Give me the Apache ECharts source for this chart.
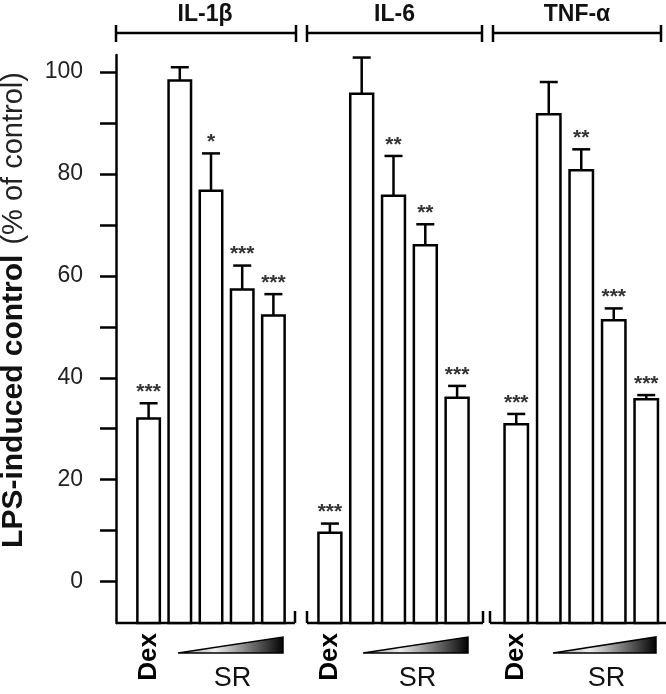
<!DOCTYPE html>
<html>
<head>
<meta charset="utf-8">
<script src="https://cdn.jsdelivr.net/npm/echarts@6/dist/echarts.min.js"></script>
<style>html,body{margin:0;padding:0;background:#fff;}#chart{width:666px;height:694px;}</style>
</head>
<body>
<div id="chart"></div>
<script>
// ---- data ----
const groups = ['IL-1β', 'IL-6', 'TNF-α'];
const categories = ['Dex', 'SR1', 'SR2', 'SR3', 'SR4'];
const il1bMean = [32.0, 98.3, 76.7, 57.3, 52.2];
const il1bErr  = [3.0, 2.6, 7.3, 4.7, 4.2];
const il1bSig  = ['***', '', '*', '***', '***'];
const il6Mean  = [9.6, 95.7, 75.7, 66.0, 36.1];
const il6Err   = [1.8, 7.1, 7.8, 4.1, 2.3];
const il6Sig   = ['***', '', '**', '**', '***'];
const tnfMean  = [30.9, 91.7, 80.7, 51.3, 35.8];
const tnfErr   = [2.0, 6.3, 4.1, 2.3, 0.8];
const tnfSig   = ['***', '', '**', '***', '***'];
const yTicks = [0, 20, 40, 60, 80, 100];
const yMinorTicks = [10, 30, 50, 70, 90];
const yMin = -8.1, yMax = 103.3;

const FONT = 'Liberation Sans, Arial, sans-serif';
const means = [il1bMean, il6Mean, tnfMean];
const errs = [il1bErr, il6Err, tnfErr];
const sigs = [il1bSig, il6Sig, tnfSig];
const gridDefs = [
  {left: 133, width: 156},
  {left: 314, width: 159},
  {left: 500, width: 162.5}
];
const AXIS_OFFSET = 17;

function makeRender(g) {
  return function (params, api) {
    const cat = api.value(0), val = api.value(1), err = api.value(2);
    const base = api.coord([cat, yMin]);
    const top = api.coord([cat, val]);
    const cap = api.coord([cat, val + err]);
    const bw = api.size([1, 0])[0] * 0.72;
    const s = sigs[g][params.dataIndex];
    const children = [
      {type: 'line', shape: {x1: top[0], y1: top[1], x2: top[0], y2: cap[1]}, style: {stroke: '#000', lineWidth: 2.5}},
      {type: 'line', shape: {x1: top[0] - 9, y1: cap[1], x2: top[0] + 9, y2: cap[1]}, style: {stroke: '#000', lineWidth: 2.5}},
      {type: 'rect', shape: {x: base[0] - bw / 2, y: top[1], width: bw, height: base[1] - top[1]}, style: {fill: '#fff', stroke: '#000', lineWidth: 2.5}}
    ];
    if (s) {
      children.push({type: 'text', x: top[0], y: cap[1] - 11, style: {text: s, align: 'center', verticalAlign: 'middle', font: 'bold 21px ' + FONT, fill: '#333'}});
    }
    return {type: 'group', children: children};
  };
}

const option = {
  backgroundColor: '#fff',
  animation: false,
  grid: gridDefs.map(d => ({left: d.left, width: d.width, top: 55, bottom: 71, containLabel: false})),
  xAxis: gridDefs.map((d, i) => ({
    type: 'category', gridIndex: i, data: categories,
    axisLine: {show: false}, axisTick: {show: false}, splitLine: {show: false},
    axisLabel: {
      interval: 0, rotate: 90, margin: 10,
      formatter: (v, idx) => idx === 0 ? v : '',
      fontFamily: FONT, fontWeight: 'bold', fontSize: 26, color: '#000'
    }
  })),
  yAxis: [
    {
      type: 'value', gridIndex: 0, position: 'left', min: yMin, max: yMax, offset: AXIS_OFFSET,
      axisLine: {show: true, lineStyle: {color: '#000', width: 2.5}},
      axisTick: {show: true, length: 16, customValues: yTicks.concat(yMinorTicks), lineStyle: {color: '#000', width: 2.5}},
      axisLabel: {customValues: yTicks, margin: 33, fontFamily: FONT, fontSize: 23, color: '#222'},
      splitLine: {show: false}
    },
    {type: 'value', gridIndex: 1, min: yMin, max: yMax, show: false},
    {type: 'value', gridIndex: 2, min: yMin, max: yMax, show: false}
  ],
  series: [0, 1, 2].map(g => ({
    type: 'custom',
    name: groups[g],
    xAxisIndex: g,
    yAxisIndex: g,
    renderItem: makeRender(g),
    data: means[g].map((m, i) => [i, m, errs[g][i]]),
    clip: false
  })),
  graphic: []
};

// decorations: group brackets, broken baseline, dose wedges, labels
const brackets = [[116, 296], [307, 482], [493, 661]];
const baseSegs = [[116, 295, false, true], [307, 483, true, true], [490, 666, true, false]];
const wedges = [[178, 283], [363, 468], [553, 656]];
const g = [];
brackets.forEach((b, i) => {
  g.push({type: 'line', shape: {x1: b[0], y1: 33, x2: b[1], y2: 33}, style: {stroke: '#000', lineWidth: 2.5}});
  g.push({type: 'line', shape: {x1: b[0], y1: 25, x2: b[0], y2: 42}, style: {stroke: '#000', lineWidth: 2.5}});
  g.push({type: 'line', shape: {x1: b[1], y1: 25, x2: b[1], y2: 42}, style: {stroke: '#000', lineWidth: 2.5}});
  g.push({type: 'text', x: (b[0] + b[1]) / 2 + (i === 0 ? -1 : 0), y: 15, style: {text: groups[i], align: 'center', verticalAlign: 'middle', font: 'bold 23px ' + FONT, fill: '#111'}});
});
baseSegs.forEach(s => {
  g.push({type: 'line', shape: {x1: s[0], y1: 623, x2: s[1], y2: 623}, style: {stroke: '#000', lineWidth: 2.5}});
  if (s[2]) g.push({type: 'line', shape: {x1: s[0], y1: 611, x2: s[0], y2: 623}, style: {stroke: '#000', lineWidth: 2.5}});
  if (s[3]) g.push({type: 'line', shape: {x1: s[1], y1: 611, x2: s[1], y2: 623}, style: {stroke: '#000', lineWidth: 2.5}});
});
wedges.forEach(w => {
  g.push({type: 'polygon', shape: {points: [[w[0], 653], [w[1], 637], [w[1], 653]]},
    style: {stroke: '#000', lineWidth: 1.5,
      fill: {type: 'linear', x: 0, y: 0, x2: 1, y2: 0, colorStops: [{offset: 0, color: '#888'}, {offset: 0.35, color: '#eee'}, {offset: 1, color: '#000'}]}}});
  g.push({type: 'text', x: (w[0] + w[1]) / 2 + 2, y: 679, style: {text: 'SR', align: 'center', verticalAlign: 'middle', font: '27px ' + FONT, fill: '#111'}});
});
g.push({type: 'text', x: 14, y: 310, rotation: Math.PI / 2,
  style: {text: '{b|LPS-induced control}{n|(% of control)}', align: 'center', verticalAlign: 'middle',
    rich: {b: {font: 'bold 30px ' + FONT, fill: '#111'}, n: {font: '29px ' + FONT, fill: '#222', padding: [0, 0, 0, 10]}}}});
option.graphic = g;

const chart = echarts.init(document.getElementById('chart'), null, {renderer: 'canvas'});
chart.setOption(option);
</script>
</body>
</html>
